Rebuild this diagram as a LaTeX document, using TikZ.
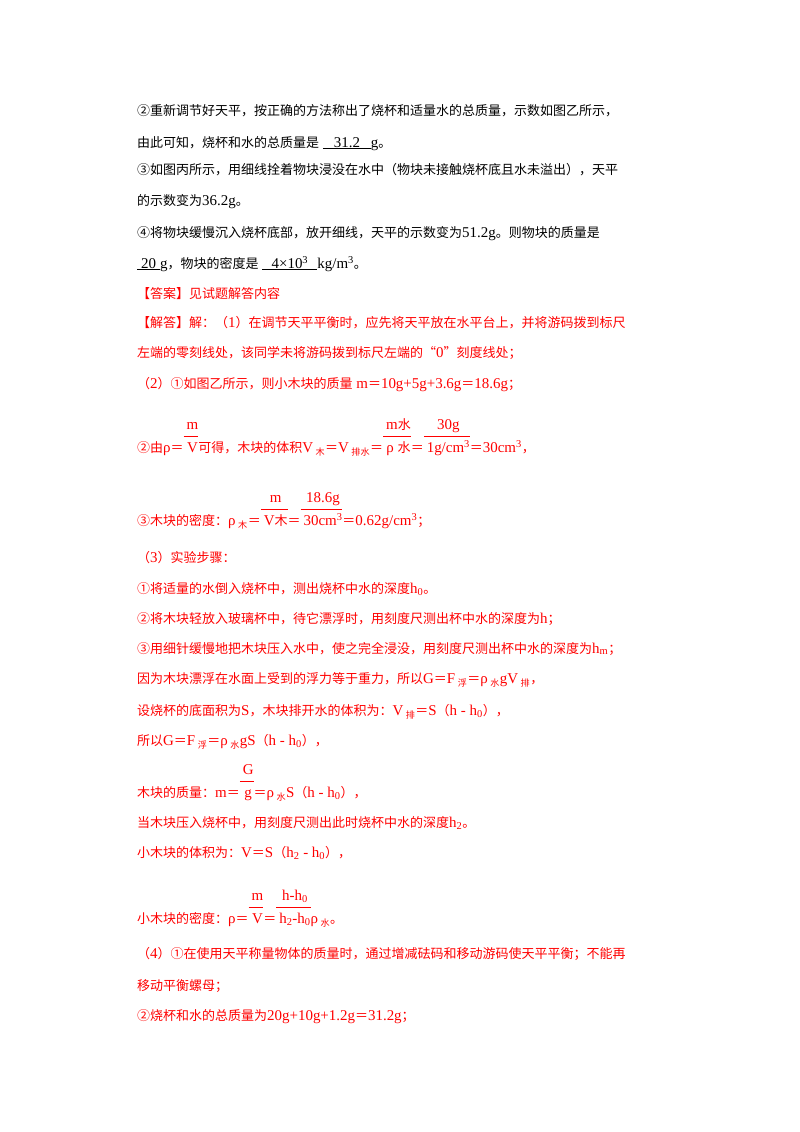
\documentclass[tikz,border=0pt]{standalone}
\usepackage{fontspec}
\setmainfont[Scale=1.15]{Liberation Serif}
\newfontfamily\cjk{Noto Sans CJK SC}
% switch to the CJK family for Chinese characters
\XeTeXinterchartokenstate=1
\newXeTeXintercharclass\cjkcls
\newcount\cc
\def\setcls#1#2{\cc=#1 \loop\XeTeXcharclass\cc=\cjkcls \advance\cc by 1 \ifnum\cc<#2 \repeat}
\setcls{"4E00}{"A000}
\setcls{"3000}{"3040}
\setcls{"FF00}{"FFF0}
\setcls{"2460}{"2500}
\XeTeXcharclass"201C=\cjkcls \XeTeXcharclass"201D=\cjkcls
\XeTeXinterchartoks 0 \cjkcls = {\begingroup\cjk}
\XeTeXinterchartoks 4095 \cjkcls = {\begingroup\cjk}
\XeTeXinterchartoks \cjkcls 0 = {\endgroup}
\XeTeXinterchartoks \cjkcls 4095 = {\endgroup}
\newcommand{\blank}[2]{\underline{\makebox[#1]{#2}}}
\newcommand{\fr}[2]{\begin{tabular}[b]{@{}c@{}}\hspace{3pt}#1\hspace{3pt}\\[2pt]\hline\rule{0pt}{16pt}\hspace{3pt}#2\hspace{3pt}\end{tabular}}
\newcommand{\sub}[1]{\,\textsubscript{#1}}
\newcommand{\sps}[1]{\textsuperscript{#1}}

\begin{document}
\begin{tikzpicture}[x=1pt, y=-1pt,
  txt/.style={anchor=base west, inner sep=0pt, font=\fontsize{13}{15}\selectfont},
  redtxt/.style={txt, text=red}
]
\useasboundingbox (0,0) rectangle (800,1132);
\node[txt] (l1) at (137,115) {②重新调节好天平，按正确的方法称出了烧杯和适量水的总质量，示数如图乙所示，};
\node[txt] (l2) at (137,147) {由此可知，烧杯和水的总质量是 \blank{48pt}{31.2}g。};
\node[txt] (l3) at (137,174) {③如图丙所示，用细线拴着物块浸没在水中（物块未接触烧杯底且水未溢出），天平};
\node[txt] (l4) at (137,205) {的示数变为36.2g。};
\node[txt] (l5) at (137,237) {④将物块缓慢沉入烧杯底部，放开细线，天平的示数变为51.2g。则物块的质量是};
\node[txt] (l6) at (137,268) {\blank{23pt}{20}g，物块的密度是 \blank{55pt}{4×10\sps{3}}kg/m\sps{3}。};

\node[redtxt] (ans) at (137,298) {【答案】见试题解答内容};
\node[redtxt] (s1a) at (137,327) {【解答】解：（1）在调节天平平衡时，应先将天平放在水平台上，并将游码拨到标尺};
\node[redtxt] (s1b) at (137,357) {左端的零刻线处，该同学未将游码拨到标尺左端的“0”刻度线处；};
\node[redtxt] (s2a) at (137,388) {（2）①如图乙所示，则小木块的质量 m＝10g+5g+3.6g＝18.6g；};
\node[redtxt] (s2b) at (137,452) {②由ρ＝\fr{m}{V}可得，木块的体积V\sub{木}＝V\sub{排水}＝\fr{m水}{ρ 水}＝\fr{30g}{1g/cm\sps{3}}＝30cm\sps{3}，};
\node[redtxt] (s2c) at (137,525) {③木块的密度：ρ\sub{木}＝\fr{m}{V木}＝\fr{18.6g}{30cm\sps{3}}＝0.62g/cm\sps{3}；};
\node[redtxt] (s3) at (137,562) {（3）实验步骤：};
\node[redtxt] (s3a) at (137,593) {①将适量的水倒入烧杯中，测出烧杯中水的深度h\textsubscript{0}。};
\node[redtxt] (s3b) at (137,623) {②将木块轻放入玻璃杯中，待它漂浮时，用刻度尺测出杯中水的深度为h；};
\node[redtxt] (s3c) at (137,653) {③用细针缓慢地把木块压入水中，使之完全浸没，用刻度尺测出杯中水的深度为h\textsubscript{m}；};
\node[redtxt] (s3d) at (137,683) {因为木块漂浮在水面上受到的浮力等于重力，所以G＝F\sub{浮}＝ρ\sub{水}gV\sub{排}，};
\node[redtxt] (s3e) at (137,715) {设烧杯的底面积为S，木块排开水的体积为：V\sub{排}＝S（h - h\textsubscript{0}），};
\node[redtxt] (s3f) at (137,745) {所以G＝F\sub{浮}＝ρ\sub{水}gS（h - h\textsubscript{0}），};
\node[redtxt] (s3g) at (137,797) {木块的质量：m＝\fr{G}{g}＝ρ\sub{水}S（h - h\textsubscript{0}），};
\node[redtxt] (s3h) at (137,827) {当木块压入烧杯中，用刻度尺测出此时烧杯中水的深度h\textsubscript{2}。};
\node[redtxt] (s3i) at (137,857) {小木块的体积为：V＝S（h\textsubscript{2} - h\textsubscript{0}），};
\node[redtxt] (s3j) at (137,923) {小木块的密度：ρ＝\fr{m}{V}＝\fr{h-h\textsubscript{0}}{h\textsubscript{2}-h\textsubscript{0}}ρ\sub{水}。};
\node[redtxt] (s4a) at (137,958) {（4）①在使用天平称量物体的质量时，通过增减砝码和移动游码使天平平衡；不能再};
\node[redtxt] (s4b) at (137,990) {移动平衡螺母；};
\node[redtxt] (s4c) at (137,1020) {②烧杯和水的总质量为20g+10g+1.2g＝31.2g；};
\end{tikzpicture}
\end{document}
